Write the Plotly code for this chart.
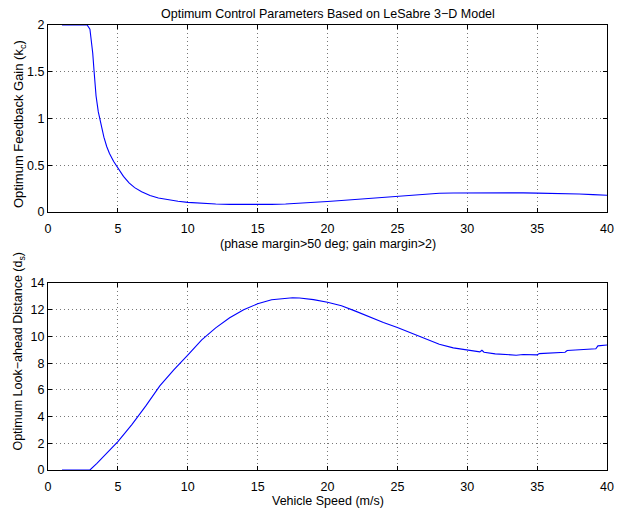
import plotly.graph_objects as go

# Top panel: optimum feedback gain vs speed
kc_speed = [1, 2.8, 3.0, 3.1, 3.2, 3.3, 3.44, 3.6, 3.8, 4.0, 4.2, 4.4, 4.7, 5.0, 5.4, 5.8, 6.2, 6.7, 7.3, 7.9, 8.6, 9.3,
            10, 11, 12, 13, 14, 15, 16, 17, 18, 19, 20, 21, 22, 23, 24, 25, 26, 27, 28, 29, 30, 31, 32, 33, 34, 35,
            36, 37, 38, 39, 40]
kc_gain = [2, 2, 1.956, 1.83, 1.70, 1.50, 1.24, 1.07, 0.92, 0.80, 0.70, 0.625, 0.54, 0.47, 0.38, 0.31, 0.26, 0.215, 0.175,
           0.148, 0.128, 0.114, 0.102, 0.092, 0.085, 0.081, 0.079, 0.079, 0.081, 0.085, 0.092, 0.101, 0.111, 0.122, 0.133,
           0.145, 0.156, 0.167, 0.18, 0.193, 0.199, 0.202, 0.204, 0.206, 0.207, 0.206, 0.204, 0.201, 0.2, 0.199, 0.192,
           0.185, 0.178]

# Bottom panel: optimum look-ahead distance vs speed
ds_speed = [1, 3.0, 3.5, 4, 5, 6, 7, 8, 9, 10, 11, 12, 13, 14, 15, 16, 17, 17.5, 18, 19, 20, 21, 22, 23, 24, 25, 26, 27,
            28, 29, 30, 30.9, 31.05, 31.2, 32, 33, 33.5, 34, 35, 35.15, 36, 37, 37.15, 38, 39.2, 39.35, 40]
ds_dist = [0, 0, 0.5, 1.05, 2.13, 3.4, 4.8, 6.3, 7.5, 8.6, 9.75, 10.65, 11.4, 12.0, 12.45, 12.75, 12.88, 12.9, 12.88,
           12.76, 12.57, 12.3, 11.9, 11.45, 11.05, 10.68, 10.25, 9.8, 9.42, 9.15, 9.0, 8.85, 8.97, 8.82, 8.7, 8.65,
           8.6, 8.65, 8.62, 8.72, 8.78, 8.82, 8.95, 9.0, 9.08, 9.3, 9.36]

x_ticks = [0, 5, 10, 15, 20, 25, 30, 35, 40]
kc_ticks = [0, 0.5, 1, 1.5, 2]
kc_ticklabels = ["0", "0.5", "1", "1.5", "2"]
ds_ticks = [0, 2, 4, 6, 8, 10, 12, 14]

FONT = "Liberation Sans, Arial, sans-serif"
blue = "#0000FF"

fig = go.Figure()
fig.add_trace(go.Scatter(x=kc_speed, y=kc_gain, mode="lines", line=dict(color=blue, width=1.1),
                         xaxis="x", yaxis="y", showlegend=False, hoverinfo="skip"))
fig.add_trace(go.Scatter(x=ds_speed, y=ds_dist, mode="lines", line=dict(color=blue, width=1.1),
                         xaxis="x2", yaxis="y2", showlegend=False, hoverinfo="skip"))

axis_common = dict(
    showline=True, linecolor="black", linewidth=1, mirror="ticks",
    ticks="inside", ticklen=4, tickcolor="black",
    showgrid=True, gridcolor="#777777", griddash="1px,3px", gridwidth=1,
    zeroline=False, tickfont=dict(family=FONT, size=12.5, color="black"),
)

fig.update_layout(
    width=624, height=508, autosize=False,
    margin=dict(l=48, r=10, t=25, b=38),
    paper_bgcolor="white", plot_bgcolor="white",
    font=dict(family=FONT, size=12.5, color="black"),
    xaxis=dict(domain=[0, 1], range=[0, 40], tickvals=x_ticks, anchor="y", ticklabelstandoff=5, **axis_common),
    yaxis=dict(domain=[0.58, 1], range=[0, 2], tickvals=kc_ticks, ticktext=kc_ticklabels, anchor="x", **axis_common),
    xaxis2=dict(domain=[0, 1], range=[0, 40], tickvals=x_ticks, anchor="y2", ticklabelstandoff=5, **axis_common),
    yaxis2=dict(domain=[0, 0.42], range=[0, 14], tickvals=ds_ticks, anchor="x2", **axis_common),
)

annotations = [
    dict(text="Optimum Control Parameters Based on LeSabre 3−D Model", xref="paper", yref="paper",
         x=0.5, y=1, yshift=11, xanchor="center", yanchor="middle", showarrow=False,
         font=dict(family=FONT, size=12.5)),
    dict(text="Optimum Feedback Gain (k<sub>c</sub>)", xref="paper", yref="paper",
         x=0, y=0.7775, xshift=-29, textangle=-90, xanchor="center", yanchor="middle", showarrow=False,
         font=dict(family=FONT, size=13)),
    dict(text="Optimum Look−ahead Distance (d<sub>s</sub>)", xref="paper", yref="paper",
         x=0, y=0.038, xshift=-29, textangle=-90, xanchor="center", yanchor="bottom", showarrow=False,
         font=dict(family=FONT, size=12.5)),
    dict(text="(phase margin>50 deg; gain margin>2)", xref="paper", yref="paper",
         x=0.5, y=0.58, yshift=-32, xanchor="center", yanchor="middle", showarrow=False,
         font=dict(family=FONT, size=12.5)),
    dict(text="Vehicle Speed (m/s)", xref="paper", yref="paper",
         x=0.5, y=0, yshift=-31, xanchor="center", yanchor="middle", showarrow=False,
         font=dict(family=FONT, size=12.5)),
]
fig.update_layout(annotations=annotations)

fig.write_html(
    "out.html",
    config={"displayModeBar": False, "responsive": False},
    post_script="document.body.style.margin='0px';document.body.style.overflow='hidden';",
)
